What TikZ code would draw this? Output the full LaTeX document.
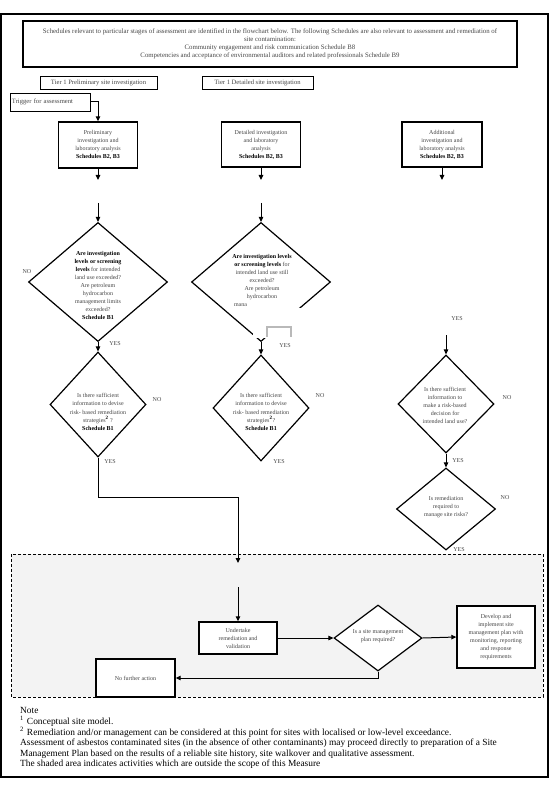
\documentclass[tikz,border=0pt]{standalone}
\usepackage{fontspec}
\setmainfont{Liberation Serif}
\usepackage{xcolor}
\usepackage{tikz}
\usetikzlibrary{arrows.meta,shapes.geometric}
\tikzset{
  hdrbox/.style ={draw, line width=1.3pt, align=center,
                  minimum width=494pt, minimum height=46pt,
                  font=\fontsize{6.8}{8.1}\selectfont, text=txtgray, inner sep=1pt},
  tierbox/.style={draw, line width=0.9pt, align=center, minimum height=13pt,
                  font=\fontsize{6.6}{7}\selectfont, text=txtgray, inner sep=1pt},
  mainbox/.style={draw, line width=1.4pt, fill=white, align=center,
                  font=\fontsize{6}{8}\selectfont, text=txtgray, inner sep=1pt},
  dia/.style    ={draw, diamond, line width=1.2pt, fill=white, inner sep=0pt},
  dtext/.style  ={align=center, font=\fontsize{6}{8.1}\selectfont,
                  text=txtgray, inner sep=0pt},
  lbl/.style    ={font=\fontsize{6}{7}\selectfont, text=txtgray, inner sep=0pt},
  notetext/.style={align=left, font=\fontsize{9.4}{10.6}\selectfont, inner sep=0pt},
  arr/.style    ={-{Triangle[length=5pt,width=4.5pt]}, line width=1pt},
}
\definecolor{txtgray}{RGB}{70,70,70}
\definecolor{shadegray}{RGB}{243,243,243}
\newcommand{\bkt}[1]{\textcolor{black}{\textbf{#1}}}

\begin{document}
\begin{tikzpicture}[x=1pt,y=-1pt]
  \useasboundingbox (0,0) rectangle (552,794);
  % frame and shaded area
  \draw[line width=2pt] (1,14) rectangle (548,777);
  \fill[shadegray] (11,554) rectangle (543,697);
  \draw[dash pattern=on 3pt off 2pt, line width=0.8pt] (11,554) rectangle (543,697);

  % header
  \node[hdrbox] (hdr) at (270,44) {Schedules relevant to particular stages of assessment are identified in the flowchart below. The following Schedules are also relevant to assessment and remediation of\\
    site contamination:\\
    Community engagement and risk communication Schedule B8\\
    Competencies and acceptance of environmental auditors and related professionals Schedule B9};
  \node[tierbox, minimum width=117pt] (tierp) at (98.5,82.5) {Tier 1 Preliminary site investigation};
  \node[tierbox, minimum width=111pt] (tierd) at (257.5,82.5) {Tier 1 Detailed site investigation};
  \node[tierbox, minimum width=80pt, minimum height=18pt, text width=76pt, align=left] (trig) at (50,102) {Trigger for assessment};

  % investigation boxes
  \node[mainbox, minimum width=79pt, minimum height=46pt] (prelim) at (98,145) {Preliminary\\investigation and\\laboratory analysis\\\bkt{Schedules B2, B3}};
  \node[mainbox, minimum width=79pt, minimum height=45pt] (detail) at (261,144.5) {Detailed investigation\\and laboratory\\analysis\\\bkt{Schedules B2, B3}};
  \node[mainbox, minimum width=80pt, minimum height=45pt] (addit) at (442,144.5) {Additional\\investigation and\\laboratory analysis\\\bkt{Schedules B2, B3}};
  \draw[arr] (trig.east) -| (prelim.north);

  \coordinate (p1) at (98,180);
  \coordinate (p2) at (261,180);
  \coordinate (p3) at (442,180);
  \draw[arr] (prelim) -- (p1);
  \draw[arr] (detail) -- (p2);
  \draw[arr] (addit) -- (p3);

  % left column
  \node[dia, minimum width=139pt, minimum height=119pt] (d1) at (98,282) {};
  \node[dtext] (t1) at (98,285.5) {\bkt{Are investigation}\\\bkt{levels or screening}\\\bkt{levels} for intended\\land use exceeded?\\Are petroleum\\hydrocarbon\\management limits\\exceeded?\\\bkt{Schedule B1}};
  \node[dia, minimum width=96pt, minimum height=105pt] (d2) at (98,404.5) {};
  \node[dtext] (t2) at (98,412) {Is there sufficient\\information to devise\\risk- based remediation\\strategies\textsuperscript{\bkt{2}} ?\\\bkt{Schedule B1}};
  \coordinate (q1) at (98,203);
  \draw[arr] (q1) -- (d1);
  \draw[arr] (d1) -- (d2);
  \node[lbl] (no1) at (27,272) {NO};
  \node[lbl] (yes1) at (115,344) {YES};
  \node[lbl] (no2) at (157,400) {NO};
  \node[lbl] (yes2) at (110,462) {YES};

  % middle column
  \node[dia, minimum width=139pt, minimum height=119pt] (d3) at (261,282) {};
  \fill[white] (253,308) rectangle (333,338);
  \draw[gray!55, line width=1.5pt] (267,337) |- (291,327) -- (291,337);
  \node[dtext] (t3) at (262,280.5) {\bkt{Are investigation levels}\\\bkt{or screening levels} for\\intended land use still\\exceeded?\\Are petroleum\\hydrocarbon\\\hbox to 56pt{mana\hfil}};
  \node[dia, minimum width=96pt, minimum height=106pt] (d4) at (261,408) {};
  \node[dtext] (t4) at (261,412) {Is there sufficient\\information to devise\\risk- based remediation\\strategies\textsuperscript{\bkt{2}}?\\\bkt{Schedule B1}};
  \coordinate (q2) at (261,203);
  \draw[arr] (q2) -- (d3);
  \draw[arr] (d3) -- (d4);
  \node[lbl] (yes3) at (285,346) {YES};
  \node[lbl] (no4) at (320,396) {NO};
  \node[lbl] (yes4) at (279,462) {YES};

  % right column
  \node[dia, minimum width=96pt, minimum height=98pt] (d5) at (446,404) {};
  \node[dtext] (t5) at (445,405.5) {Is there sufficient\\information to\\make a risk-based\\decision for\\intended land use?};
  \node[dia, minimum width=99pt, minimum height=82pt] (d6) at (446,509) {};
  \node[dtext] (t6) at (446,507) {Is remediation\\required to\\manage site risks?};
  \coordinate (q3) at (446,335);
  \draw[arr] (q3) -- (d5);
  \draw[arr] (d5) -- (d6);
  \node[lbl] (yes5a) at (457,319) {YES};
  \node[lbl] (no5) at (507,398) {NO};
  \node[lbl] (yes5) at (458,461) {YES};
  \node[lbl] (no6) at (505,498) {NO};
  \node[lbl] (yes6) at (459,550) {YES};

  % shaded part
  \coordinate (bend) at (238,497);
  \coordinate (jn) at (238,563);
  \coordinate (jn2) at (238,587);
  \draw[arr] (d2.south) |- (bend) -- (jn);
  \node[mainbox, minimum width=78pt, minimum height=32pt] (undo) at (238,638) {Undertake\\remediation and\\validation};
  \node[dia, minimum width=88pt, minimum height=66pt] (d7) at (378,638) {};
  \node[dtext] (t7) at (378,636) {Is a site management\\plan required?};
  \node[mainbox, minimum width=78pt, minimum height=62pt] (devel) at (496,637) {Develop and\\implement site\\management plan with\\monitoring, reporting\\and response\\requirements};
  \node[mainbox, minimum width=79pt, minimum height=38pt] (nfa) at (135.5,678) {No further action};
  \draw[arr] (jn2) -- (undo);
  \draw[arr] (undo.east) -- (d7.west);
  \draw[arr] (d7.east) -- (devel.west);
  \draw[arr] (d7.south) |- (nfa.east);

  % notes
  \node[notetext, anchor=north west] (notes) at (20,707.5) {Note\\
    \textsuperscript{1}\hspace{3pt}Conceptual site model.\\
    \textsuperscript{2}\hspace{3pt}Remediation and/or management can be considered at this point for sites with localised or low-level exceedance.\\
    Assessment of asbestos contaminated sites (in the absence of other contaminants) may proceed directly to preparation of a Site\\
    Management Plan based on the results of a reliable site history, site walkover and qualitative assessment.\\
    The shaded area indicates activities which are outside the scope of this Measure};
\end{tikzpicture}
\end{document}
